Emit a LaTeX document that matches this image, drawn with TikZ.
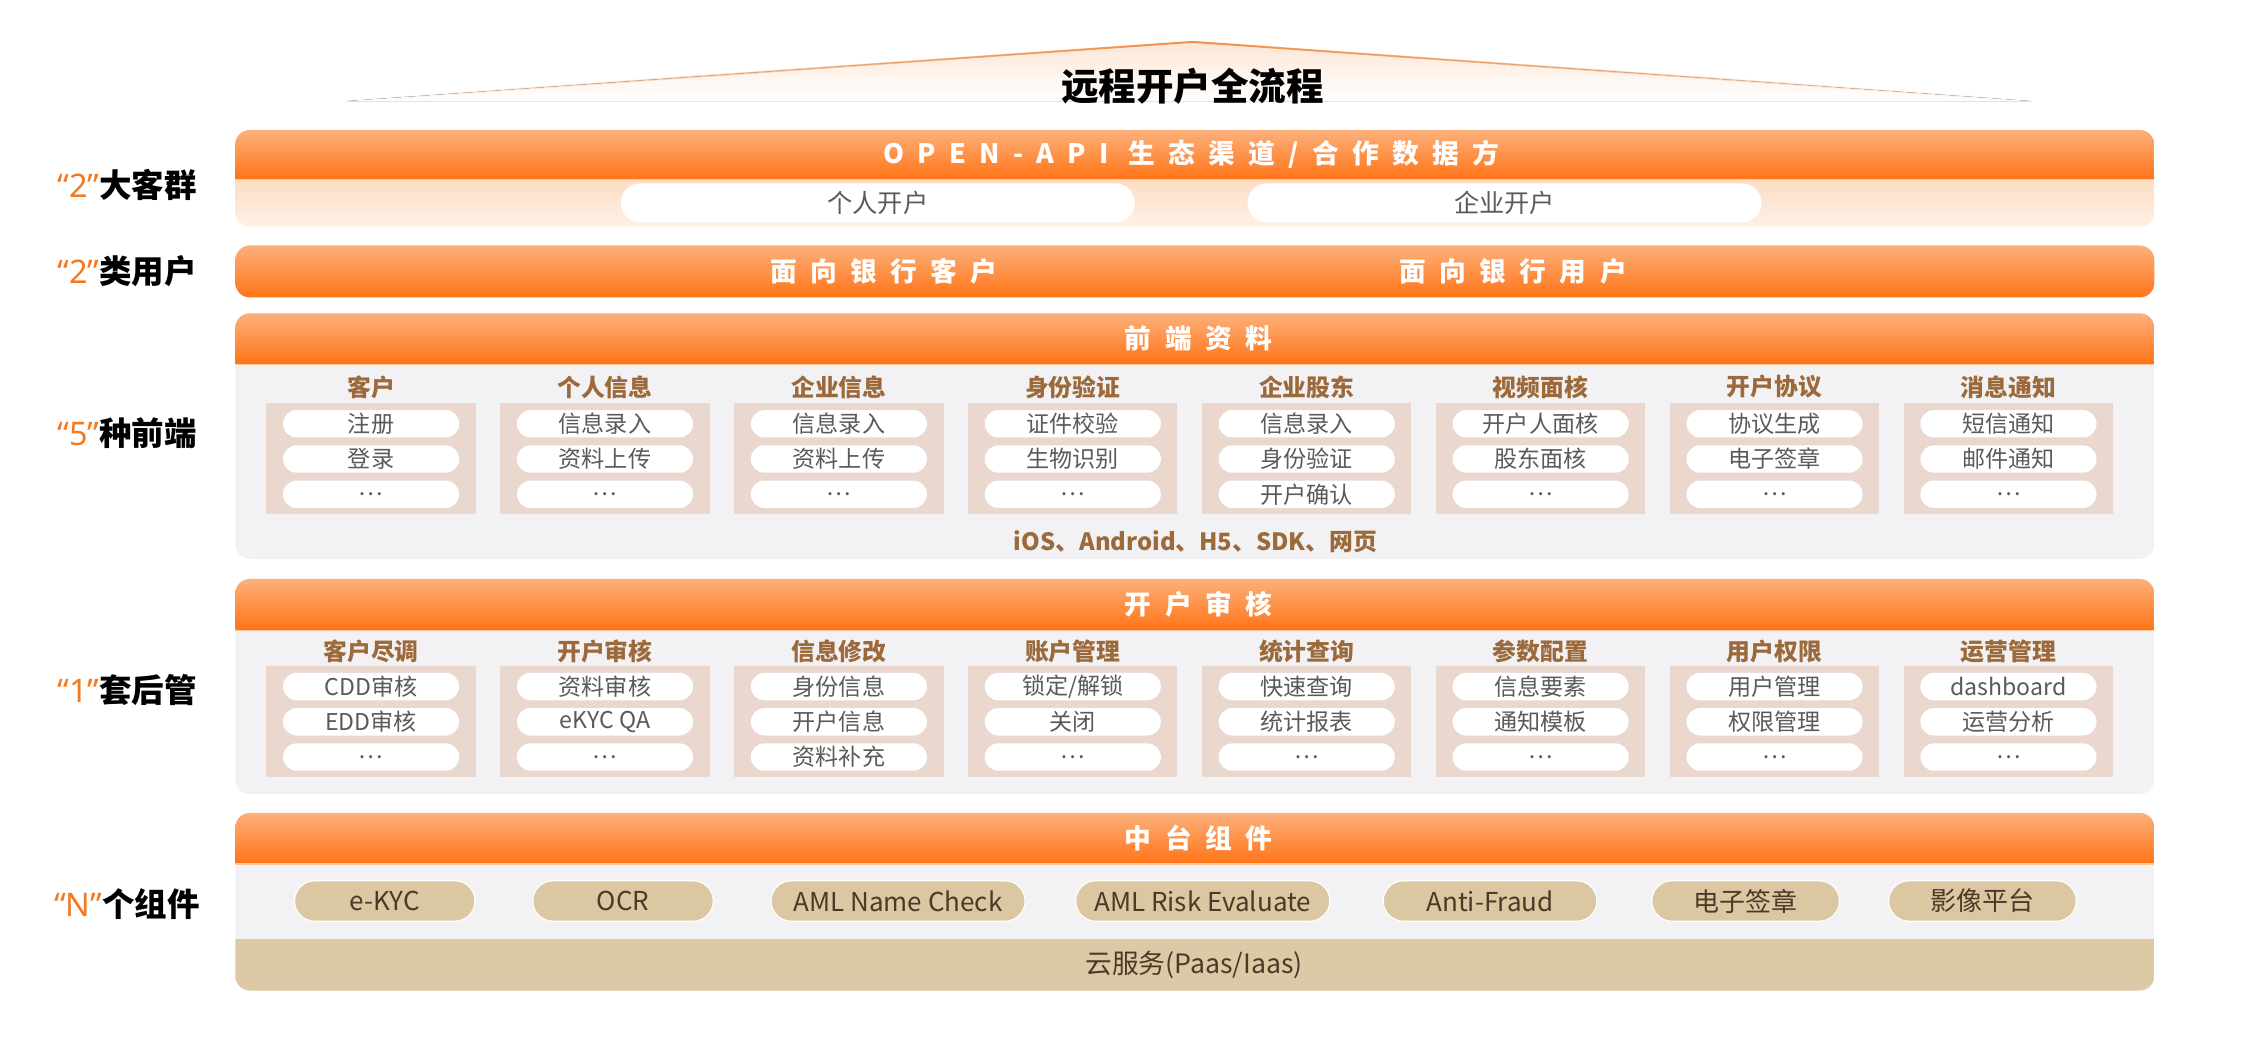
\documentclass[tikz,border=0pt]{standalone}
\usepackage{fontspec}
\setmainfont{Noto Sans CJK SC}
\newfontfamily\widefont[LetterSpace=50]{Noto Sans CJK SC}
\newfontfamily\latinfont{Noto Sans}
\usetikzlibrary{positioning,fadings,shapes.misc}

\definecolor{hdtop}{HTML}{FDB07B}
\definecolor{hdbot}{HTML}{FF7417}
\definecolor{hdline}{HTML}{FFC896}
\definecolor{bandtop}{HTML}{FDDCC3}
\definecolor{bandbot}{HTML}{FFF1E6}
\definecolor{bodybg}{HTML}{F2F2F4}
\definecolor{boxbg}{HTML}{EAD8CF}
\definecolor{titlebrown}{HTML}{9C6A3A}
\definecolor{pilltext}{HTML}{5A5A5A}
\definecolor{compbg}{HTML}{DCC7A3}
\definecolor{comptext}{HTML}{4A3A28}
\definecolor{cloudbg}{HTML}{DDC9A6}
\definecolor{lblorange}{HTML}{F47A1F}
\definecolor{roofc}{HTML}{F39048}
\definecolor{rooffill}{HTML}{FDE6D6}

\tikzfading[name=fade left,
	left color=transparent!100,
	right color=transparent!0]
\tikzfading[name=fade right,
	left color=transparent!0,
	right color=transparent!100]

\begin{document}
\begin{tikzpicture}[x=1pt,
					y=-1pt,
					head text/.style={text=white,font=\widefont\bfseries\fontsize{18.5}{19}\selectfont},
					side label/.style={font=\bfseries\fontsize{22.5}{23}\selectfont},
					col title/.style={text=titlebrown,font=\bfseries\fontsize{16.5}{17}\selectfont},
					col box/.style={fill=boxbg,minimum width=145pt,minimum height=77pt,inner sep=0pt},
					item pill/.style={rounded rectangle,fill=white,minimum width=122pt,minimum height=19pt,
						inner sep=0pt,text=pilltext,font=\fontsize{16}{16}\selectfont},
					open pill/.style={rounded rectangle,fill=white,minimum width=356pt,minimum height=27pt,
						inner sep=0pt,text=pilltext,font=\fontsize{17.5}{18}\selectfont},
					comp pill/.style={rounded rectangle,fill=compbg,draw=white,line width=0.8pt,minimum height=28pt,
						inner sep=0pt,text=comptext,font=\fontsize{18}{18}\selectfont}]

  \useasboundingbox (0,0) rectangle (1568,722);

  % roof
  \fill[top color=rooffill,bottom color=white] (240,70) -- (826,29) -- (1407,70) -- cycle;
  \draw[roofc,line width=1.4pt,path fading=fade left] (240,70) -- (826,29);
  \draw[roofc,line width=1.4pt,path fading=fade right] (826,29) -- (1407,70);
  \node[font=\bfseries\fontsize{26}{26}\selectfont] (title) at (826,60) {远程开户全流程};

  % left labels
  \node[side label] (L1) at (88,128) {{\latinfont\textcolor{lblorange}{“2”}}大客群};
  \node[side label] (L2) at (88,188) {{\latinfont\textcolor{lblorange}{“2”}}类用户};
  \node[side label] (L3) at (88,300) {{\latinfont\textcolor{lblorange}{“5”}}种前端};
  \node[side label] (L4) at (88,478) {{\latinfont\textcolor{lblorange}{“1”}}套后管};
  \node[side label] (L5) at (88,626) {{\latinfont\textcolor{lblorange}{“N”}}个组件};

  % open-api
  \begin{scope}
    \clip[rounded corners=10pt] (163,90) rectangle (1492,157);
    \shade[top color=hdtop,bottom color=hdbot] (163,90) rectangle (1492,124);
    \shade[top color=bandtop,bottom color=bandbot] (163,124) rectangle (1492,157);
    \draw[hdline,line width=1pt] (163,124.5) -- (1492,124.5);
  \end{scope}
  \node[head text] (api) at (825,107) {OPEN-API 生态渠道/合作数据方};
  \node[open pill] (P1) at (608,140.5) {个人开户};
  \node[open pill] (P2) at (1042,140.5) {企业开户};

  % users
  \shade[top color=hdtop,bottom color=hdbot,rounded corners=10pt] (163,170) rectangle (1492,206);
  \node[head text] (U1) at (612,188) {面向银行客户};
  \node[head text] (U2) at (1048,188) {面向银行用户};

  % front end
  \begin{scope}
    \clip[rounded corners=10pt] (163,217) rectangle (1492,387);
    \fill[bodybg] (163,217) rectangle (1492,387);
    \shade[top color=hdtop,bottom color=hdbot] (163,217) rectangle (1492,252);
    \draw[hdline,line width=1pt] (163,252.5) -- (1492,252.5);
  \end{scope}
  \node[head text] (F) at (830,234.5) {前端资料};
  \foreach \t/\a/\b/\c [count=\i] in {客户/注册/登录/…,
      个人信息/信息录入/资料上传/…,
      企业信息/信息录入/资料上传/…,
      身份验证/证件校验/生物识别/…,
      企业股东/信息录入/身份验证/开户确认,
      视频面核/开户人面核/股东面核/…,
      开户协议/协议生成/电子签章/…,
      消息通知/短信通知/邮件通知/…} {
    \node[col title] (ft\i) at ({257+162*(\i-1)},268) {\t};
    \node[col box] (fb\i) at ({257+162*(\i-1)},317.5) {};
    \node[item pill,below=5pt of fb\i.north] (fp\i-1) {\a};
    \node[item pill,below=5pt of fp\i-1] (fp\i-2) {\b};
    \node[item pill,below=5pt of fp\i-2] (fp\i-3) {\c};
  }
  \node[col title] (Fos) at (828,375) {iOS、Android、H5、SDK、网页};

  % back office
  \begin{scope}
    \clip[rounded corners=10pt] (163,401) rectangle (1492,550);
    \fill[bodybg] (163,401) rectangle (1492,550);
    \shade[top color=hdtop,bottom color=hdbot] (163,401) rectangle (1492,436);
    \draw[hdline,line width=1pt] (163,436.5) -- (1492,436.5);
  \end{scope}
  \node[head text] (B) at (830,418.5) {开户审核};
  \foreach \t/\a/\b/\c [count=\i] in {客户尽调/CDD审核/EDD审核/…,
      开户审核/资料审核/eKYC QA/…,
      信息修改/身份信息/开户信息/资料补充,
      账户管理/{锁定/解锁}/关闭/…,
      统计查询/快速查询/统计报表/…,
      参数配置/信息要素/通知模板/…,
      用户权限/用户管理/权限管理/…,
      运营管理/dashboard/运营分析/…} {
    \node[col title] (bt\i) at ({257+162*(\i-1)},451) {\t};
    \node[col box] (bb\i) at ({257+162*(\i-1)},499.5) {};
    \node[item pill,below=5pt of bb\i.north] (bp\i-1) {\a};
    \node[item pill,below=5pt of bp\i-1] (bp\i-2) {\b};
    \node[item pill,below=5pt of bp\i-2] (bp\i-3) {\c};
  }

  % components
  \begin{scope}
    \clip[rounded corners=10pt] (163,563) rectangle (1492,686);
    \fill[bodybg] (163,563) rectangle (1492,650);
    \shade[top color=hdtop,bottom color=hdbot] (163,563) rectangle (1492,598);
    \draw[hdline,line width=1pt] (163,598.5) -- (1492,598.5);
    \fill[cloudbg] (163,650) rectangle (1492,686);
  \end{scope}
  \node[head text] (M) at (830,580.5) {中台组件};
  \foreach \n/\x/\w [count=\i] in {e-KYC/266.5/125,
      OCR/431.5/125,
      AML Name Check/622/176,
      AML Risk Evaluate/833/176,
      Anti-Fraud/1032/148,
      电子签章/1209/130,
      影像平台/1373/130} {
    \node[comp pill,minimum width=\w pt] (cp\i) at (\x,624) {\n};
  }
  \node[text=comptext,font=\fontsize{18.5}{19}\selectfont] (cloud) at (827,668) {云服务(Paas/Iaas)};
\end{tikzpicture}
\end{document}
